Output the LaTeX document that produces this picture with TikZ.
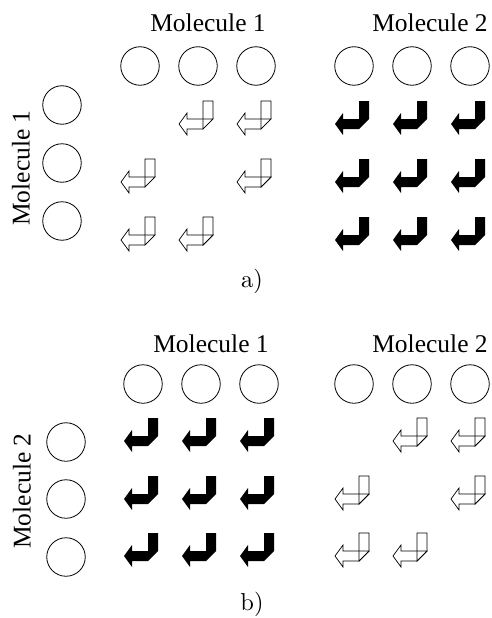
\documentclass[tikz,border=0pt]{standalone}
\usepackage{fontspec}
\newfontfamily\labelfont{Liberation Serif}
\newfontfamily\tagfont{lmroman10-regular}[Extension=.otf]
\begin{document}
\begin{tikzpicture}[x=1pt,y=-1pt,
  atom/.style={circle,draw,line width=0.8pt,minimum size=38.5pt,inner sep=0pt},
  mollabel/.style={font=\labelfont\fontsize{25.5}{30}\selectfont,inner sep=0pt},
  panellabel/.style={font=\tagfont\fontsize{24.5}{28}\selectfont,inner sep=0pt},
  % hooked arrow: vertical bar with a chamfered foot, joined to a left-pointing arrow
  outarrow/.pic={
    \draw[line width=0.7pt] (5,-23) -- (15,-23) -- (15,-5) -- (5,5) -- cycle;
    \draw[line width=0.7pt] (-19,0) -- (-11,-11) -- (-11,-5) -- (15,-5) -- (5,5)
      -- (-11,5) -- (-11,11) -- cycle;
  },
  fullarrow/.pic={
    \fill (5,-23) -- (15,-23) -- (15,-5) -- (5,5) -- (-11,5) -- (-11,11) -- (-19,0)
      -- (-11,-11) -- (-11,-5) -- (5,-5) -- cycle;
  }
]
\useasboundingbox (0,0) rectangle (491,618);

% ---------- panel a ----------
\node[mollabel,anchor=base] (a-m1) at (208,32) {Molecule 1};
\node[mollabel,anchor=base] (a-m2) at (430,32) {Molecule 2};
\node[mollabel,rotate=90] (a-side) at (21,168) {Molecule 1};

\foreach \x [count=\i] in {140,198,256,354,412,470}
  \node[atom] (a-top-\i) at (\x,66) {};
\foreach \y [count=\j] in {105,163,221}
  \node[atom] (a-left-\j) at (62,\y) {};

% same molecule: off-diagonal outlined arrows
\foreach \x/\y in {198/124,256/124,140/182,256/182,140/240,198/240}
  \pic at (\x,\y) {outarrow};
% other molecule: all filled
\foreach \x in {354,412,470}
  \foreach \y in {124,182,240}
    \pic at (\x,\y) {fullarrow};

\node[panellabel] (a-tag) at (252,281) {a)};

% ---------- panel b ----------
\node[mollabel,anchor=base] (b-m1) at (211,352) {Molecule 1};
\node[mollabel,anchor=base] (b-m2) at (430,352) {Molecule 2};
\node[mollabel,rotate=90] (b-side) at (22,491) {Molecule 2};

\foreach \x [count=\i] in {143,201,259,354,412,470}
  \node[atom] (b-top-\i) at (\x,384) {};
\foreach \y [count=\j] in {442,499,557}
  \node[atom] (b-left-\j) at (66,\y) {};

% other molecule: all filled
\foreach \x in {143,201,259}
  \foreach \y in {441,499,556}
    \pic at (\x,\y) {fullarrow};
% same molecule: off-diagonal outlined arrows
\foreach \x/\y in {412/441,470/441,354/499,470/499,354/556,412/556}
  \pic at (\x,\y) {outarrow};

\node[panellabel] (b-tag) at (252,604) {b)};
\end{tikzpicture}
\end{document}
